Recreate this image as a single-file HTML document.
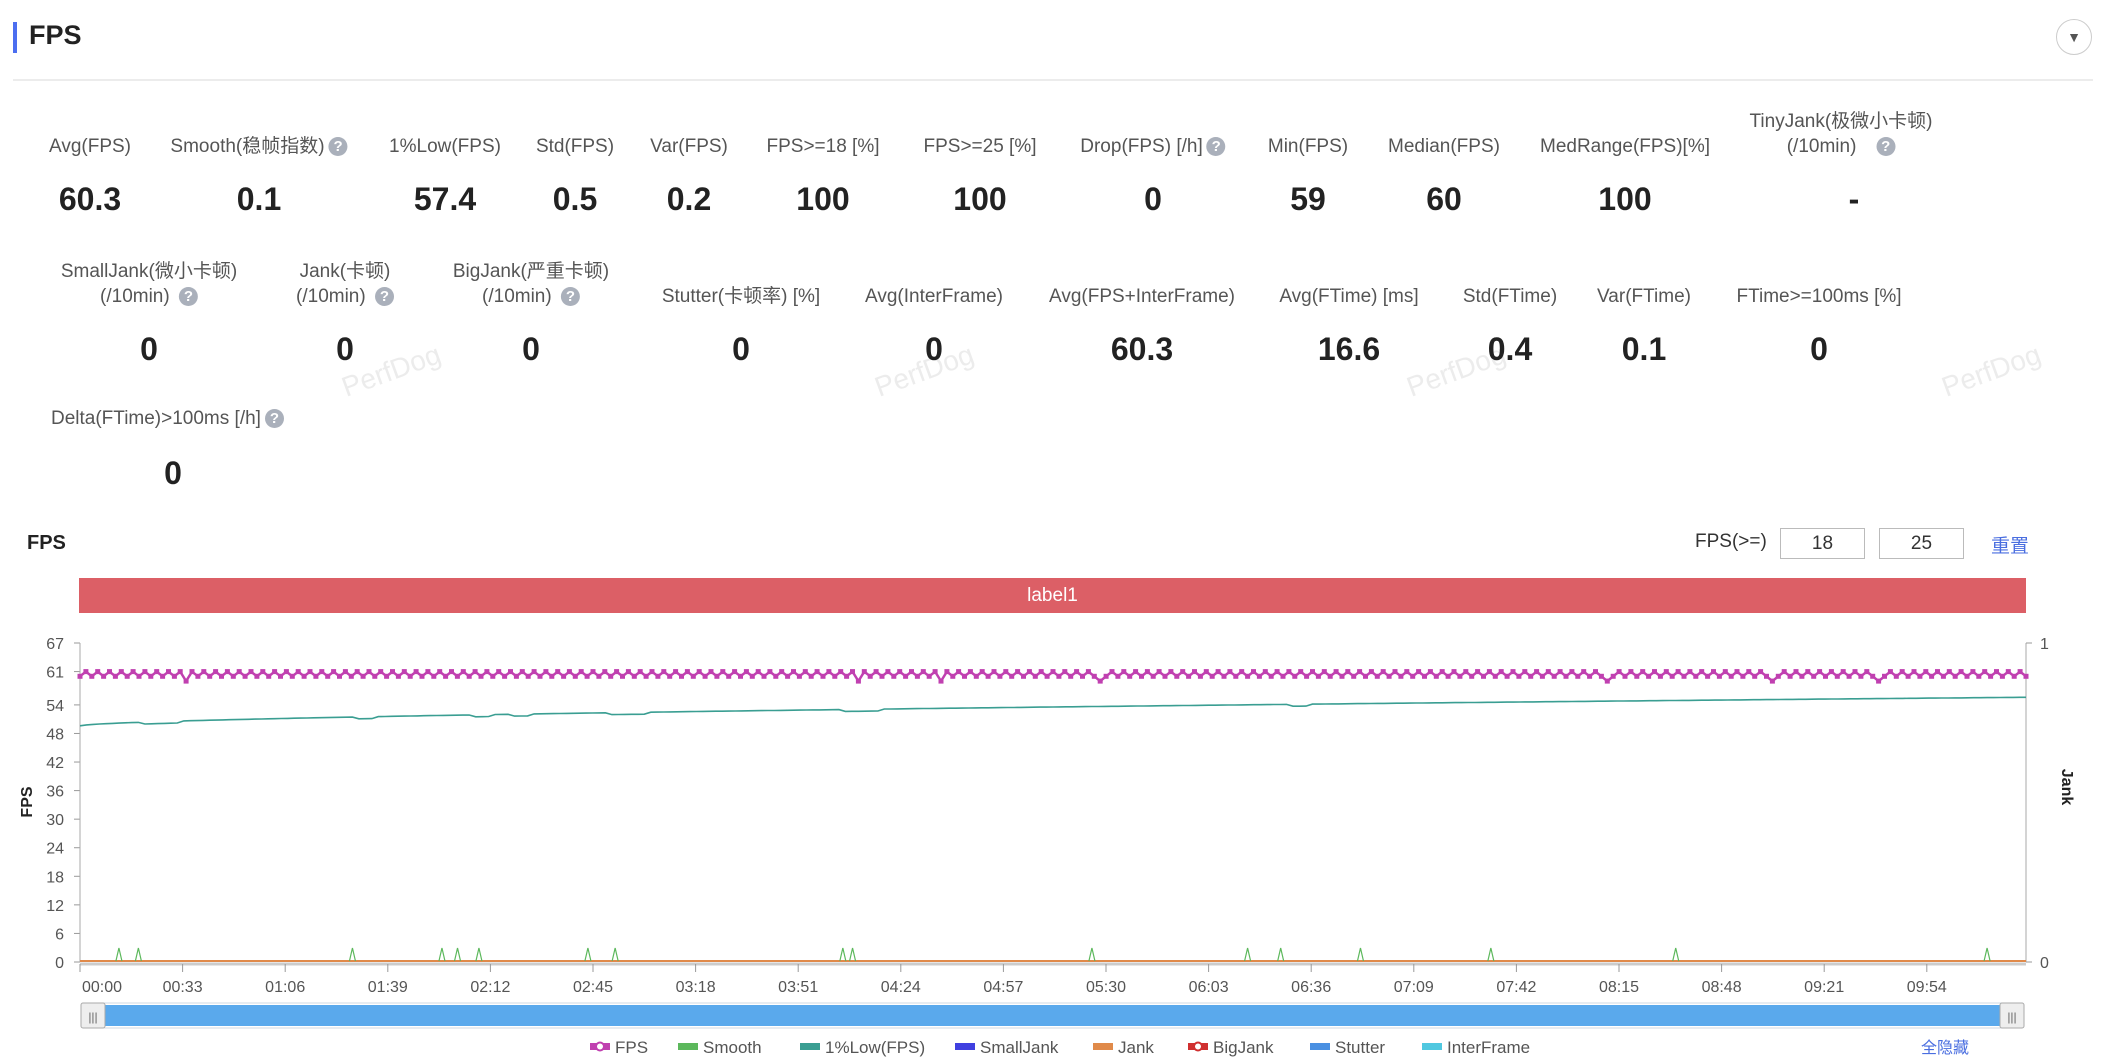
<!DOCTYPE html>
<html><head><meta charset="utf-8"><style>
body{margin:0;width:2102px;height:1060px;background:#fff;font-family:"Liberation Sans","Noto Sans CJK SC",sans-serif;position:relative;overflow:hidden;color:#555}
.a{position:absolute;white-space:nowrap}
.l{font-size:19px;color:#555;transform:translateX(-50%);text-align:center;line-height:25px}
.v{font-size:32px;font-weight:bold;color:#222;transform:translateX(-50%)}
.q{display:inline-block;width:19px;height:19px;border-radius:50%;background:#aab0bb;color:#fff;font-size:15px;line-height:19px;text-align:center;font-weight:bold;vertical-align:1px;margin-left:4px}
.wm{position:absolute;color:#ececec;font-size:28px;transform:rotate(-20deg)}
.inp{position:absolute;border:1px solid #bbb;width:83px;height:29px;text-align:center;font-size:19px;line-height:29px;color:#333}
</style></head><body>
<div class="a" style="left:13px;top:22px;width:4px;height:31px;background:#4c6ef0"></div>
<div class="a" style="left:29px;top:20px;font-size:27px;font-weight:bold;color:#222">FPS</div>
<div class="a" style="left:2056px;top:19px;width:34px;height:34px;border:1px solid #ccc;border-radius:50%;text-align:center;line-height:34px;font-size:14px;color:#555">▼</div>
<div class="a" style="left:13px;top:79px;width:2080px;height:2px;background:#ececec"></div>

<div class="wm" style="left:340px;top:355px">PerfDog</div>
<div class="wm" style="left:873px;top:355px">PerfDog</div>
<div class="wm" style="left:1405px;top:355px">PerfDog</div>
<div class="wm" style="left:1940px;top:355px">PerfDog</div>

<div class="a l" style="left:90px;top:134px">Avg(FPS)</div>
<div class="a l" style="left:259px;top:134px">Smooth(稳帧指数)<span class="q">?</span></div>
<div class="a l" style="left:445px;top:134px">1%Low(FPS)</div>
<div class="a l" style="left:575px;top:134px">Std(FPS)</div>
<div class="a l" style="left:689px;top:134px">Var(FPS)</div>
<div class="a l" style="left:823px;top:134px">FPS>=18 [%]</div>
<div class="a l" style="left:980px;top:134px">FPS>=25 [%]</div>
<div class="a l" style="left:1153px;top:134px">Drop(FPS) [/h]<span class="q">?</span></div>
<div class="a l" style="left:1308px;top:134px">Min(FPS)</div>
<div class="a l" style="left:1444px;top:134px">Median(FPS)</div>
<div class="a l" style="left:1625px;top:134px">MedRange(FPS)[%]</div>
<div class="a l" style="left:1841px;top:109px">TinyJank(极微小卡顿)<br>(/10min) &nbsp; <span class="q">?</span></div>
<div class="a v" style="left:90px;top:181px">60.3</div>
<div class="a v" style="left:259px;top:181px">0.1</div>
<div class="a v" style="left:445px;top:181px">57.4</div>
<div class="a v" style="left:575px;top:181px">0.5</div>
<div class="a v" style="left:689px;top:181px">0.2</div>
<div class="a v" style="left:823px;top:181px">100</div>
<div class="a v" style="left:980px;top:181px">100</div>
<div class="a v" style="left:1153px;top:181px">0</div>
<div class="a v" style="left:1308px;top:181px">59</div>
<div class="a v" style="left:1444px;top:181px">60</div>
<div class="a v" style="left:1625px;top:181px">100</div>
<div class="a v" style="left:1854px;top:181px">-</div>

<div class="a l" style="left:149px;top:259px">SmallJank(微小卡顿)<br>(/10min) <span class="q">?</span></div>
<div class="a l" style="left:345px;top:259px">Jank(卡顿)<br>(/10min) <span class="q">?</span></div>
<div class="a l" style="left:531px;top:259px">BigJank(严重卡顿)<br>(/10min) <span class="q">?</span></div>
<div class="a l" style="left:741px;top:284px">Stutter(卡顿率) [%]</div>
<div class="a l" style="left:934px;top:284px">Avg(InterFrame)</div>
<div class="a l" style="left:1142px;top:284px">Avg(FPS+InterFrame)</div>
<div class="a l" style="left:1349px;top:284px">Avg(FTime) [ms]</div>
<div class="a l" style="left:1510px;top:284px">Std(FTime)</div>
<div class="a l" style="left:1644px;top:284px">Var(FTime)</div>
<div class="a l" style="left:1819px;top:284px">FTime>=100ms [%]</div>
<div class="a v" style="left:149px;top:331px">0</div>
<div class="a v" style="left:345px;top:331px">0</div>
<div class="a v" style="left:531px;top:331px">0</div>
<div class="a v" style="left:741px;top:331px">0</div>
<div class="a v" style="left:934px;top:331px">0</div>
<div class="a v" style="left:1142px;top:331px">60.3</div>
<div class="a v" style="left:1349px;top:331px">16.6</div>
<div class="a v" style="left:1510px;top:331px">0.4</div>
<div class="a v" style="left:1644px;top:331px">0.1</div>
<div class="a v" style="left:1819px;top:331px">0</div>

<div class="a" style="left:51px;top:408px;font-size:19px;color:#555">Delta(FTime)>100ms [/h]<span class="q">?</span></div>
<div class="a v" style="left:173px;top:455px">0</div>

<div class="a" style="left:27px;top:532px;font-size:20px;font-weight:bold;color:#222">FPS</div>
<div class="a" style="left:1695px;top:531px;font-size:19px;color:#333">FPS(&gt;=)</div>
<div class="inp" style="left:1780px;top:528px">18</div>
<div class="inp" style="left:1879px;top:528px">25</div>
<div class="a" style="left:1991px;top:531px;font-size:19px;color:#4a6ee0">重置</div>
<div class="a" style="left:79px;top:578px;width:1947px;height:35px;background:#dc5f66;color:#fff;font-size:19px;text-align:center;line-height:35px">label1</div>

<svg id="s" class="a" style="left:0;top:0" width="2102" height="1060"></svg>
<script>
var s='',X0=80,X1=2026,Y0=962,Y67=643;
function y(v){return Y0-(v/67)*(Y0-Y67)}
var ticks=[0,6,12,18,24,30,36,42,48,54,61,67];
ticks.forEach(function(t){var yy=y(t);s+='<line x1="74" x2="80" y1="'+yy+'" y2="'+yy+'" stroke="#999"/><text x="64" y="'+(yy+6)+'" font-size="16" fill="#555" text-anchor="end">'+t+'</text>';});
s+='<line x1="80" x2="80" y1="643" y2="962" stroke="#aaa"/><line x1="2026" x2="2026" y1="643" y2="962" stroke="#aaa"/>';
s+='<line x1="2026" x2="2032" y1="643" y2="643" stroke="#999"/><line x1="2026" x2="2032" y1="962" y2="962" stroke="#999"/>';
s+='<text x="2040" y="649" font-size="16" fill="#555">1</text><text x="2040" y="968" font-size="16" fill="#555">0</text>';
s+='<text transform="translate(32,802) rotate(-90)" font-size="16" font-weight="bold" fill="#222" text-anchor="middle">FPS</text>';
s+='<text transform="translate(2062,787) rotate(90)" font-size="16" font-weight="bold" fill="#222" text-anchor="middle">Jank</text>';
s+='<line x1="80" x2="2026" y1="964" y2="964" stroke="#ccc" stroke-width="3"/>';
var lab=['00:00','00:33','01:06','01:39','02:12','02:45','03:18','03:51','04:24','04:57','05:30','06:03','06:36','07:09','07:42','08:15','08:48','09:21','09:54'];
lab.forEach(function(l,i){var xx=80+i*102.6;s+='<line x1="'+xx+'" x2="'+xx+'" y1="964" y2="972" stroke="#999"/><text x="'+(i==0?82:xx)+'" y="992" font-size="16" fill="#555" text-anchor="'+(i==0?'start':'middle')+'">'+l+'</text>';});
var p='',n=300;var notch=[0.03,0.04,0.14,0.2,0.22,0.27,0.28,0.39,0.4,0.62];
for(var i=0;i<=n;i++){var f=i/n;var v=49.6+6*Math.pow(f,0.6);notch.forEach(function(k){if(f>k&&f<k+0.012)v-=0.4;});var xx=X0+f*(X1-X0);p+=(i?'L':'M')+xx.toFixed(1)+','+y(v).toFixed(1);}
s+='<path d="'+p+'" fill="none" stroke="#3a9e92" stroke-width="1.6"/>';
s+='<line x1="80" x2="2026" y1="961" y2="961" stroke="#e08a4a" stroke-width="2"/>';
[0.02,0.03,0.14,0.186,0.194,0.205,0.261,0.275,0.392,0.397,0.52,0.6,0.617,0.658,0.725,0.82,0.98].forEach(function(f){var xx=X0+f*(X1-X0);s+='<path d="M'+(xx-3)+',961 L'+xx+','+(948)+' L'+(xx+3)+',961" fill="none" stroke="#5cb85c" stroke-width="1.2"/>';});
var q='',m='',N=330;for(var i=0;i<=N;i++){var xx=X0+i*(X1-X0)/N;var v=(i%2)?61:60;if([18,132,146,173,259,287,305].indexOf(i)>=0)v=59;q+=(i?'L':'M')+xx.toFixed(1)+','+y(v).toFixed(1);m+='<rect x="'+(xx-2.5).toFixed(1)+'" y="'+(y(v)-2.5).toFixed(1)+'" width="5" height="5" fill="#c040b0"/>';}
s+='<path d="'+q+'" fill="none" stroke="#c040b0" stroke-width="2.5"/>'+m;
s+='<rect x="88" y="1005" width="1930" height="21" fill="#5aa9ec"/><rect x="84" y="1003" width="1938" height="25" fill="none" stroke="#cfd8e3"/>';
s+='<rect x="81" y="1003" width="24" height="25" rx="2" fill="#eee" stroke="#aaa"/><text x="93" y="1021" font-size="12" fill="#666" text-anchor="middle">|||</text>';
s+='<rect x="2000" y="1003" width="24" height="25" rx="2" fill="#eee" stroke="#aaa"/><text x="2012" y="1021" font-size="12" fill="#666" text-anchor="middle">|||</text>';
var lg=[['FPS','#c040b0',590],['Smooth','#5cb85c',678],['1%Low(FPS)','#3a9e92',800],['SmallJank','#4040e0',955],['Jank','#e08a4a',1093],['BigJank','#d03030',1188],['Stutter','#4a90e2',1310],['InterFrame','#50c8e0',1422]];
lg.forEach(function(a){s+='<rect x="'+a[2]+'" y="1043" width="20" height="7" fill="'+a[1]+'"/>';if(a[0]=='FPS'||a[0]=='BigJank')s+='<circle cx="'+(a[2]+10)+'" cy="1046.5" r="4" fill="#fff" stroke="'+a[1]+'" stroke-width="2"/>';s+='<text x="'+(a[2]+25)+'" y="1053" font-size="17" fill="#555">'+a[0]+'</text>';});
s+='<text x="1921" y="1053" font-size="16" fill="#4a6ee0">全隐藏</text>';
document.getElementById('s').innerHTML=s;
</script>
</body></html>
